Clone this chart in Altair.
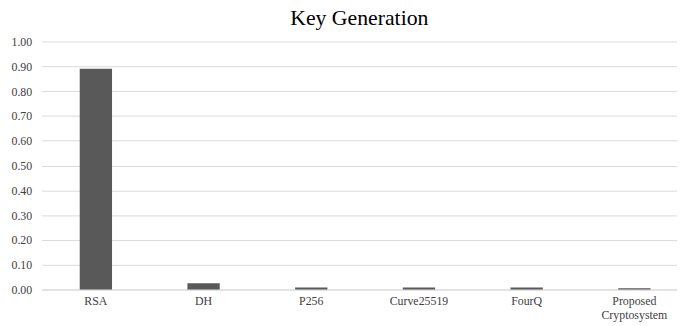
import altair as alt
import pandas as pd

categories = ["RSA", "DH", "P256", "Curve25519", "FourQ", "Proposed Cryptosystem"]
values = [0.89, 0.025, 0.008, 0.008, 0.008, 0.005]

df = pd.DataFrame({"cat": categories, "val": values})

FONT = "'Liberation Serif', 'Times New Roman', 'DejaVu Serif', serif"

bars = alt.Chart(df).mark_bar(color="#595959").encode(
    x=alt.X("cat:N", sort=categories,
            scale=alt.Scale(paddingInner=0.7, paddingOuter=0.3, align=0.59),
            axis=alt.Axis(title=None, labelAngle=0, labelFont=FONT, labelFontSize=12,
                          labelColor="#404040", ticks=False, domain=True,
                          domainColor="#d9d9d9", labelPadding=6, grid=False,
                          labelExpr="datum.value == 'Proposed Cryptosystem' ? ['Proposed', 'Cryptosystem'] : datum.value")),
    y=alt.Y("val:Q", scale=alt.Scale(domain=[0, 1]),
            axis=alt.Axis(title=None, values=[i / 10 for i in range(11)], format=".2f",
                          labelFont=FONT, labelFontSize=12, labelColor="#404040",
                          ticks=False, domain=False, gridColor="#d9d9d9",
                          labelPadding=10)),
)

chart = bars.properties(
    width=643, height=251,
    title=alt.TitleParams("Key Generation", font=FONT, fontSize=22, fontWeight="normal",
                          color="#000000", anchor="middle", offset=6),
    autosize=alt.AutoSizeParams(type="none"),
    padding={"left": 34, "top": 32, "right": 0, "bottom": 35},
).configure_view(stroke=None)

chart.save("out.html", embed_options={"renderer": "svg", "actions": False})
